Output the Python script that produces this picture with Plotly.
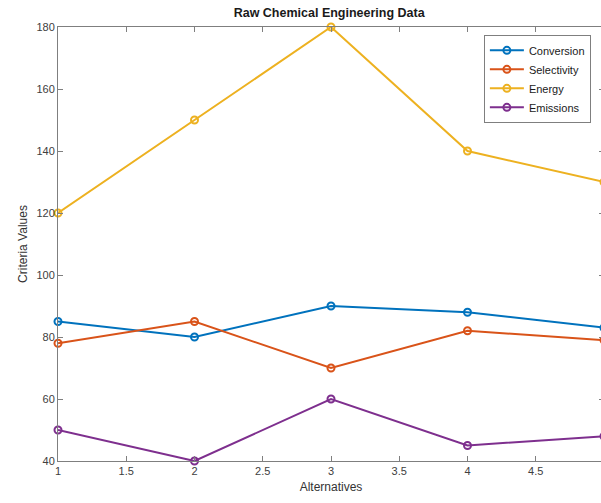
import plotly.graph_objects as go

alternatives = [1, 2, 3, 4, 5]
conversion = [85, 80, 90, 88, 83]
selectivity = [78, 85, 70, 82, 79]
energy = [120, 150, 180, 140, 130]
emissions = [50, 40, 60, 45, 48]

series = [
    ("Conversion", conversion, "#0072BD"),
    ("Selectivity", selectivity, "#D95319"),
    ("Energy", energy, "#EDB120"),
    ("Emissions", emissions, "#7E2F8E"),
]

fig = go.Figure()
for name, vals, color in series:
    fig.add_trace(go.Scatter(
        x=alternatives, y=vals, name=name, mode="lines+markers",
        line=dict(color=color, width=2),
        marker=dict(symbol="circle-open", size=7, color=color, line=dict(width=2, color=color)),
        cliponaxis=False,
    ))

axis_common = dict(
    showgrid=False, zeroline=False, showline=True, linecolor="#7f7f7f", linewidth=1,
    mirror="ticks", ticks="inside", ticklen=5, tickcolor="#7f7f7f",
    tickfont=dict(family="Liberation Sans, Arial, sans-serif", size=11, color="#404040"),
)

fig.update_layout(
    width=604, height=503,
    margin=dict(l=58, r=0, t=27, b=42),
    paper_bgcolor="white", plot_bgcolor="white",
    font=dict(family="Liberation Sans, Arial, sans-serif", color="#262626"),
    title=dict(text="<b>Raw Chemical Engineering Data</b>", x=0.545, xanchor="center",
               y=0.975, yanchor="middle", font=dict(size=12.5, color="#1a1a1a")),
    xaxis=dict(range=[1, 1 + (604 - 58) / 136.5], tickvals=[1, 1.5, 2, 2.5, 3, 3.5, 4, 4.5, 5],
               ticktext=["1", "1.5", "2", "2.5", "3", "3.5", "4", "4.5", "5"],
               title=dict(text="Alternatives", font=dict(size=12, color="#333333"), standoff=6),
               **axis_common),
    yaxis=dict(range=[40, 180], tickvals=[40, 60, 80, 100, 120, 140, 160, 180],
               title=dict(text="Criteria Values", font=dict(size=12, color="#333333"), standoff=6),
               **axis_common),
    legend=dict(x=0.78, y=0.982, xanchor="left", yanchor="top",
                bgcolor="white", bordercolor="#7f7f7f", borderwidth=1,
                font=dict(size=11, color="#1a1a1a"), tracegroupgap=0, itemwidth=34),
    showlegend=True,
)

fig.write_html(
    "out.html",
    config={"displayModeBar": False},
    post_script="document.body.style.margin='0';document.body.style.overflow='hidden';",
)
